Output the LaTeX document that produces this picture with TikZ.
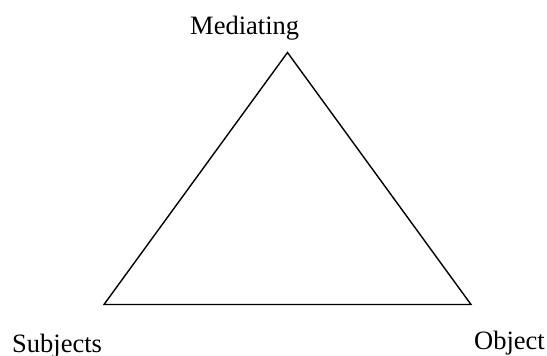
\documentclass[tikz,border=0pt]{standalone}
\usepackage{fontspec}
\setmainfont{Liberation Serif}
\begin{document}
\begin{tikzpicture}[x=1pt,y=1pt,
  lbl/.style={inner sep=0pt,anchor=base west,font=\fontsize{26.5}{30}\selectfont},
  edge/.style={draw=black,line width=1.4pt,line join=miter}]
\useasboundingbox (0,0) rectangle (547,356);
\coordinate (top) at (287.5,303.5);
\coordinate (bl) at (104,51.5);
\coordinate (br) at (471,51.5);
\draw[edge] (top) -- (bl) -- (br) -- cycle;
\node[lbl] (med) at (190,321) {Mediating};
\node[lbl] (sub) at (12,3) {Subjects};
\node[lbl] (obj) at (474,6) {Object};
\end{tikzpicture}
\end{document}
